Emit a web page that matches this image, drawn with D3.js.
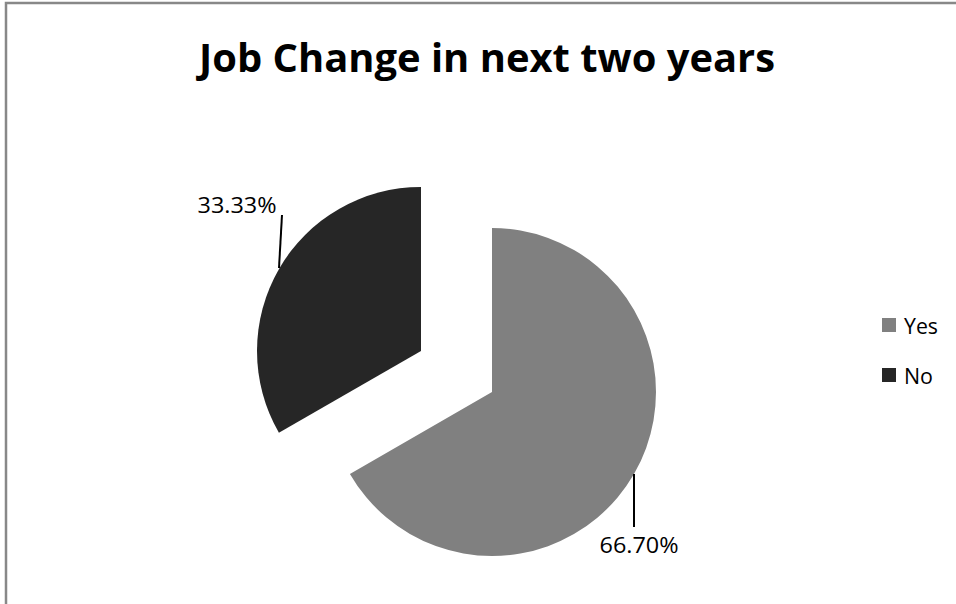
<!DOCTYPE html>
<html>
<head>
<meta charset="utf-8">
<script src="https://cdn.jsdelivr.net/npm/d3@7"></script>
<style>
  html, body { margin: 0; padding: 0; background: #fff; }
  svg { display: block; }
</style>
</head>
<body>
<svg id="chart" width="956" height="604"></svg>
<script>
// Survey answers and their shares (percent)
const categories = ["Yes", "No"];
const values = [66.70, 33.33];
const labels = ["66.70%", "33.33%"];
const colors = ["#808080", "#262626"];
const titleText = "Job Change in next two years";

const svg = d3.select("#chart");
const font = "'Open Sans', 'DejaVu Sans', sans-serif";

// Chart frame
svg.append("rect")
  .attr("x", 6).attr("y", 3)
  .attr("width", 1000).attr("height", 700)
  .attr("fill", "#fff")
  .attr("stroke", "#888").attr("stroke-width", 2.5);

// Title
svg.append("text")
  .attr("x", 487).attr("y", 72)
  .attr("text-anchor", "middle")
  .attr("font-family", font)
  .attr("font-weight", 700)
  .attr("font-size", 40)
  .attr("textLength", 576)
  .attr("lengthAdjust", "spacingAndGlyphs")
  .attr("fill", "#000")
  .text(titleText);

// Pie geometry
const cx = 492, cy = 392, radius = 164;
const explode = [0, 82];   // "No" slice pulled out from the centre

const pie = d3.pie().sort(null).value(d => d);
const arcs = pie(values);
const arc = d3.arc().innerRadius(0).outerRadius(radius);

const g = svg.append("g").attr("transform", `translate(${cx},${cy})`);

arcs.forEach((a, i) => {
  const mid = (a.startAngle + a.endAngle) / 2;
  const dx = Math.sin(mid) * explode[i];
  const dy = -Math.cos(mid) * explode[i];
  g.append("path")
    .attr("d", arc(a))
    .attr("transform", `translate(${dx},${dy})`)
    .attr("fill", colors[i]);
});

// Data labels with leader lines
const labelSpecs = [
  { line: [[634, 474], [634, 527]], text: [639, 553] },
  { line: [[282, 215], [279, 268]], text: [237, 213] }
];
labelSpecs.forEach((s, i) => {
  svg.append("line")
    .attr("x1", s.line[0][0]).attr("y1", s.line[0][1])
    .attr("x2", s.line[1][0]).attr("y2", s.line[1][1])
    .attr("stroke", "#000").attr("stroke-width", 2);
  svg.append("text")
    .attr("x", s.text[0]).attr("y", s.text[1])
    .attr("text-anchor", "middle")
    .attr("font-family", font)
    .attr("font-size", 22)
    .attr("textLength", 79)
    .attr("lengthAdjust", "spacingAndGlyphs")
    .attr("fill", "#000")
    .text(labels[i]);
});

// Legend
const legendWidths = [34, 29];
const legend = svg.append("g").attr("transform", "translate(882,318)");
categories.forEach((c, i) => {
  const row = legend.append("g").attr("transform", `translate(0,${i * 50})`);
  row.append("rect")
    .attr("x", 0).attr("y", 0)
    .attr("width", 14).attr("height", 14)
    .attr("fill", colors[i]);
  row.append("text")
    .attr("x", 22).attr("y", 16)
    .attr("font-family", font)
    .attr("font-size", 22)
    .attr("textLength", legendWidths[i])
    .attr("lengthAdjust", "spacingAndGlyphs")
    .attr("fill", "#000")
    .text(c);
});
</script>
</body>
</html>
